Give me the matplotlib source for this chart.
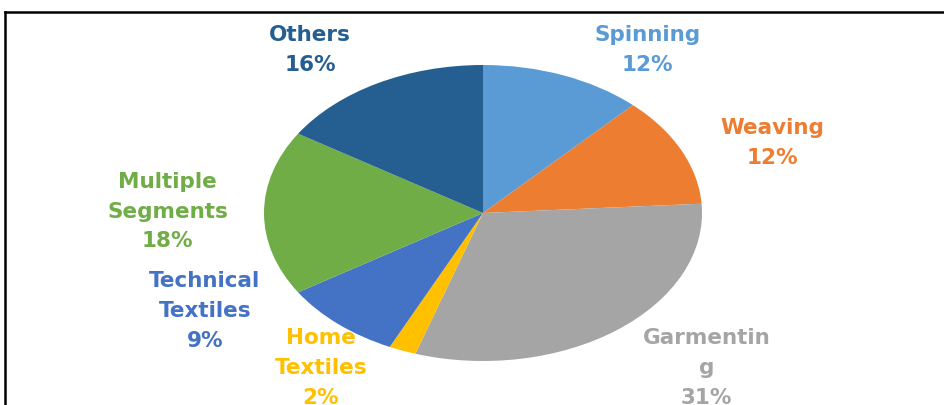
import matplotlib.pyplot as plt
from matplotlib.lines import Line2D

# textile industry segments, share in %
segments = ['Spinning', 'Weaving', 'Garmenting', 'Home Textiles',
            'Technical Textiles', 'Multiple Segments', 'Others']
label_text = ['Spinning', 'Weaving', 'Garmentin\ng', 'Home\nTextiles',
              'Technical\nTextiles', 'Multiple\nSegments', 'Others']
shares = [12, 12, 31, 2, 9, 18, 16]
colors = ['#5B9BD5', '#ED7D31', '#A5A5A5', '#FFC000',
          '#4472C4', '#70AD47', '#255E91']

# where each label block sits (axes data units, pie radius = 1)
label_pos = [(0.75, 1.10), (1.32, 0.47), (1.02, -1.05), (-0.74, -1.05),
             (-1.27, -0.66), (-1.44, 0.01), (-0.79, 1.10)]

fig = plt.figure(figsize=(9.44, 4.05), dpi=100)
ax = fig.add_axes([264 / 944, 1 - 361 / 405, 438 / 944, 296 / 405])

ax.pie(shares, colors=colors, startangle=90, counterclock=False,
       wedgeprops={'linewidth': 0})
ax.set_aspect('auto')
ax.set_xlim(-1, 1)
ax.set_ylim(-1, 1)
ax.axis('off')

for txt, val, col, (x, y) in zip(label_text, shares, colors, label_pos):
    ax.text(x, y, f'{txt}\n{val}%', color=col, ha='center', va='center',
            fontsize=15.5, fontweight='bold', family='DejaVu Sans',
            linespacing=1.62, clip_on=False)

# frame lines along the top and left edge
fig.add_artist(Line2D([5 / 944, 1], [1 - 12 / 405, 1 - 12 / 405],
                      color='black', linewidth=1.8))
fig.add_artist(Line2D([5 / 944, 5 / 944], [0, 1 - 12 / 405],
                      color='black', linewidth=1.8))

fig.savefig('out.png', dpi=100)
